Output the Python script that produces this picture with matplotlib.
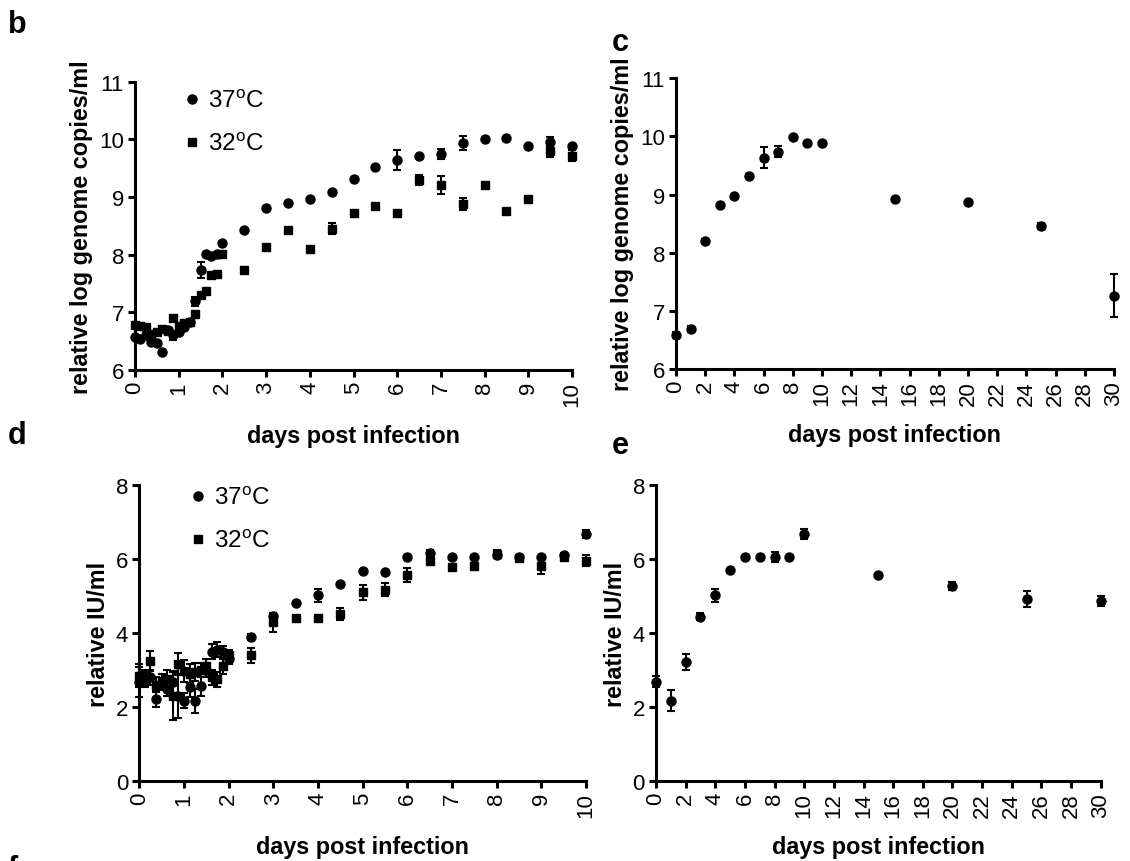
import matplotlib
matplotlib.use("Agg")
import matplotlib.pyplot as plt
from matplotlib.lines import Line2D
import numpy as np

plt.rcParams['font.family'] = ['Liberation Sans', 'DejaVu Sans']
plt.rcParams['mathtext.default'] = 'regular'

# ---------------- data ----------------
# panel b: relative log genome copies/ml, 0-10 dpi
b_days = [0, 0.125, 0.25, 0.375, 0.5, 0.625, 0.75, 0.875, 1.0, 1.125, 1.25, 1.375,
          1.5, 1.625, 1.75, 1.875, 2.0, 2.5, 3.0, 3.5, 4.0, 4.5, 5.0, 5.5, 6.0, 6.5,
          7.0, 7.5, 8.0, 8.5, 9.0, 9.5, 10.0]
b_37 = [6.58, 6.53, 6.60, 6.49, 6.47, 6.31, 6.70, 6.60, 6.66, 6.75, 6.83, 7.19,
        7.74, 8.01, 7.98, 8.01, 8.20, 8.43, 8.81, 8.90, 8.97, 9.09, 9.32, 9.52, 9.64, 9.72,
        9.75, 9.94, 10.00, 10.02, 9.89, 9.96, 9.88]
b_37_err = [0, 0, 0, 0, 0, 0, 0, 0.08, 0, 0, 0, 0.08,
            0.14, 0, 0, 0, 0, 0, 0, 0, 0, 0, 0, 0, 0.17, 0,
            0.09, 0.12, 0, 0, 0, 0.08, 0]
b_32 = [6.78, 6.77, 6.74, 6.62, 6.66, 6.71, 6.68, 6.90, 6.76, 6.81, 6.83, 6.97,
        7.30, 7.37, 7.64, 7.66, 8.01, 7.74, 8.14, 8.42, 8.09, 8.45, 8.72, 8.84, 8.73, 9.30,
        9.21, 8.88, 9.20, 8.76, 8.97, 9.79, 9.72]
b_32_err = [0, 0, 0, 0, 0, 0, 0, 0, 0, 0, 0, 0,
            0, 0, 0, 0, 0, 0.05, 0, 0, 0, 0.10, 0, 0, 0, 0.09,
            0.15, 0.10, 0, 0, 0.04, 0.09, 0.09]

# panel c: relative log genome copies/ml, 37C, 0-30 dpi
c_days = [0, 1, 2, 3, 4, 5, 6, 7, 8, 9, 10, 15, 20, 25, 30]
c_val = [6.58, 6.69, 8.20, 8.82, 8.97, 9.32, 9.63, 9.74, 9.99, 9.89, 9.88, 8.92, 8.87, 8.46, 7.26]
c_err = [0.05, 0.05, 0.03, 0, 0, 0.03, 0.18, 0.09, 0, 0, 0, 0, 0, 0.05, 0.37]

# panel d: relative IU/ml, 0-10 dpi
d_37 = [2.67, 2.75, 2.80, 2.22, 2.60, 2.50, 2.67, 2.30, 2.17, 2.53, 2.17, 2.56,
        3.00, 3.50, 3.55, 3.50, 3.30, 3.90, 4.45, 4.80, 5.02, 5.32, 5.68, 5.64, 6.06, 6.15,
        6.05, 6.06, 6.10, 6.05, 6.05, 6.10, 6.68]
d_37_err = [0.40, 0.20, 0.20, 0.22, 0.15, 0.20, 0.30, 0.60, 0.20, 0.25, 0.32, 0.25,
            0.20, 0.20, 0.20, 0.15, 0.15, 0.08, 0.10, 0, 0.17, 0, 0, 0, 0, 0.08,
            0, 0, 0, 0, 0, 0, 0.10]
d_32 = [2.85, 2.80, 3.25, 2.60, 2.70, 2.75, 2.30, 3.16, 2.98, 2.90, 2.95, 3.00,
        3.10, 2.80, 2.75, 3.10, 3.40, 3.40, 4.29, 4.40, 4.40, 4.51, 5.10, 5.17, 5.57, 5.95,
        5.78, 5.80, 6.13, 6.03, 5.80, 6.06, 5.95]
d_32_err = [0.30, 0.20, 0.27, 0.20, 0.20, 0.25, 0.65, 0.30, 0.30, 0.25, 0.25, 0.20,
            0.20, 0.20, 0.20, 0.20, 0.15, 0.20, 0.26, 0, 0, 0.16, 0.20, 0.18, 0.20, 0,
            0, 0, 0.10, 0, 0.20, 0.10, 0.15]

# panel e: relative IU/ml, 37C, 0-30 dpi
e_days = [0, 1, 2, 3, 4, 5, 6, 7, 8, 9, 10, 15, 20, 25, 30]
e_val = [2.68, 2.17, 3.22, 4.44, 5.02, 5.69, 6.06, 6.06, 6.06, 6.06, 6.68, 5.56, 5.27, 4.92, 4.87]
e_err = [0.15, 0.28, 0.21, 0.10, 0.17, 0, 0, 0, 0.13, 0, 0.13, 0, 0.10, 0.21, 0.13]

b_xticks = list(range(0, 11))
c_xticks = list(range(0, 31, 2))
legend_labels = ['37$^{o}$C', '32$^{o}$C']
xlabel = 'days post infection'
ylabel_gen = 'relative log genome copies/ml'
ylabel_iu = 'relative IU/ml'

# ---------------- figure ----------------
W, H = 1130, 862
fig = plt.figure(figsize=(W / 100, H / 100), dpi=100)


def ax_px(left, top, right, bottom):
    return fig.add_axes([left / W, 1 - bottom / H, (right - left) / W, (bottom - top) / H])


axb = ax_px(135, 82.7, 572, 371)
axc = ax_px(676, 79.3, 1114, 370)
axd = ax_px(139.3, 486, 586, 782)
axe = ax_px(656, 486, 1100.7, 782)

LW = 2.2
TICK_FS = 16
LAB_FS = 16.8


def style(ax, xlim, ylim, xticks, yticks):
    ax.set_xlim(*xlim)
    ax.set_ylim(*ylim)
    ax.set_xticks(xticks)
    ax.set_yticks(yticks)
    ax.set_xticklabels([str(t) for t in xticks], rotation=90)
    for s in ['top', 'right']:
        ax.spines[s].set_visible(False)
    for s in ['left', 'bottom']:
        ax.spines[s].set_linewidth(LW)
    ax.tick_params(direction='out', length=5, width=LW, labelsize=TICK_FS, pad=3)
    ax.set_xlabel(xlabel, fontsize=LAB_FS, fontweight='bold', labelpad=13)


def pts(ax, x, y, err, marker, ms):
    ax.errorbar(x, y, yerr=err, fmt=marker, color='black', ms=ms, elinewidth=1.5,
                capsize=3, capthick=1.5, clip_on=False, zorder=3)


# panel b
style(axb, (0, 10), (6, 11), b_xticks, [6, 7, 8, 9, 10, 11])
pts(axb, b_days, b_32, b_32_err, 's', 6.2)
pts(axb, b_days, b_37, b_37_err, 'o', 6.5)
axb.set_ylabel(ylabel_gen, fontsize=LAB_FS, fontweight='bold', labelpad=4)

# panel c
style(axc, (0, 30), (6, 11), c_xticks, [6, 7, 8, 9, 10, 11])
pts(axc, c_days, c_val, c_err, 'o', 6.5)
axc.set_ylabel(ylabel_gen, fontsize=LAB_FS, fontweight='bold', labelpad=4)

# panel d
style(axd, (0, 10), (0, 8), b_xticks, [0, 2, 4, 6, 8])
pts(axd, b_days, d_32, d_32_err, 's', 6.2)
pts(axd, b_days, d_37, d_37_err, 'o', 6.5)
axd.set_ylabel(ylabel_iu, fontsize=LAB_FS, fontweight='bold', labelpad=4)

# panel e
style(axe, (0, 30), (0, 8), c_xticks, [0, 2, 4, 6, 8])
pts(axe, e_days, e_val, e_err, 'o', 6.5)
axe.set_ylabel(ylabel_iu, fontsize=LAB_FS, fontweight='bold', labelpad=4)

# legends
handles = [Line2D([], [], marker='o', ls='none', color='black', ms=6.5),
           Line2D([], [], marker='s', ls='none', color='black', ms=6.2)]
for ax, anchor in [(axb, (0.102, 0.971)), (axd, (0.1045, 0.993))]:
    ax.legend(handles, legend_labels, loc='upper left', bbox_to_anchor=anchor,
              frameon=False, fontsize=17.5, handlelength=1.0, handletextpad=0.15,
              borderpad=0, borderaxespad=0, labelspacing=0.85)

# panel letters
for txt, x, y in [('b', 8, 33), ('c', 612, 51), ('d', 8, 444), ('e', 612, 454), ('f', 8, 878)]:
    fig.text(x / W, 1 - y / H, txt, fontsize=22, fontweight='bold', ha='left', va='baseline')

fig.savefig('out.png', dpi=100)
